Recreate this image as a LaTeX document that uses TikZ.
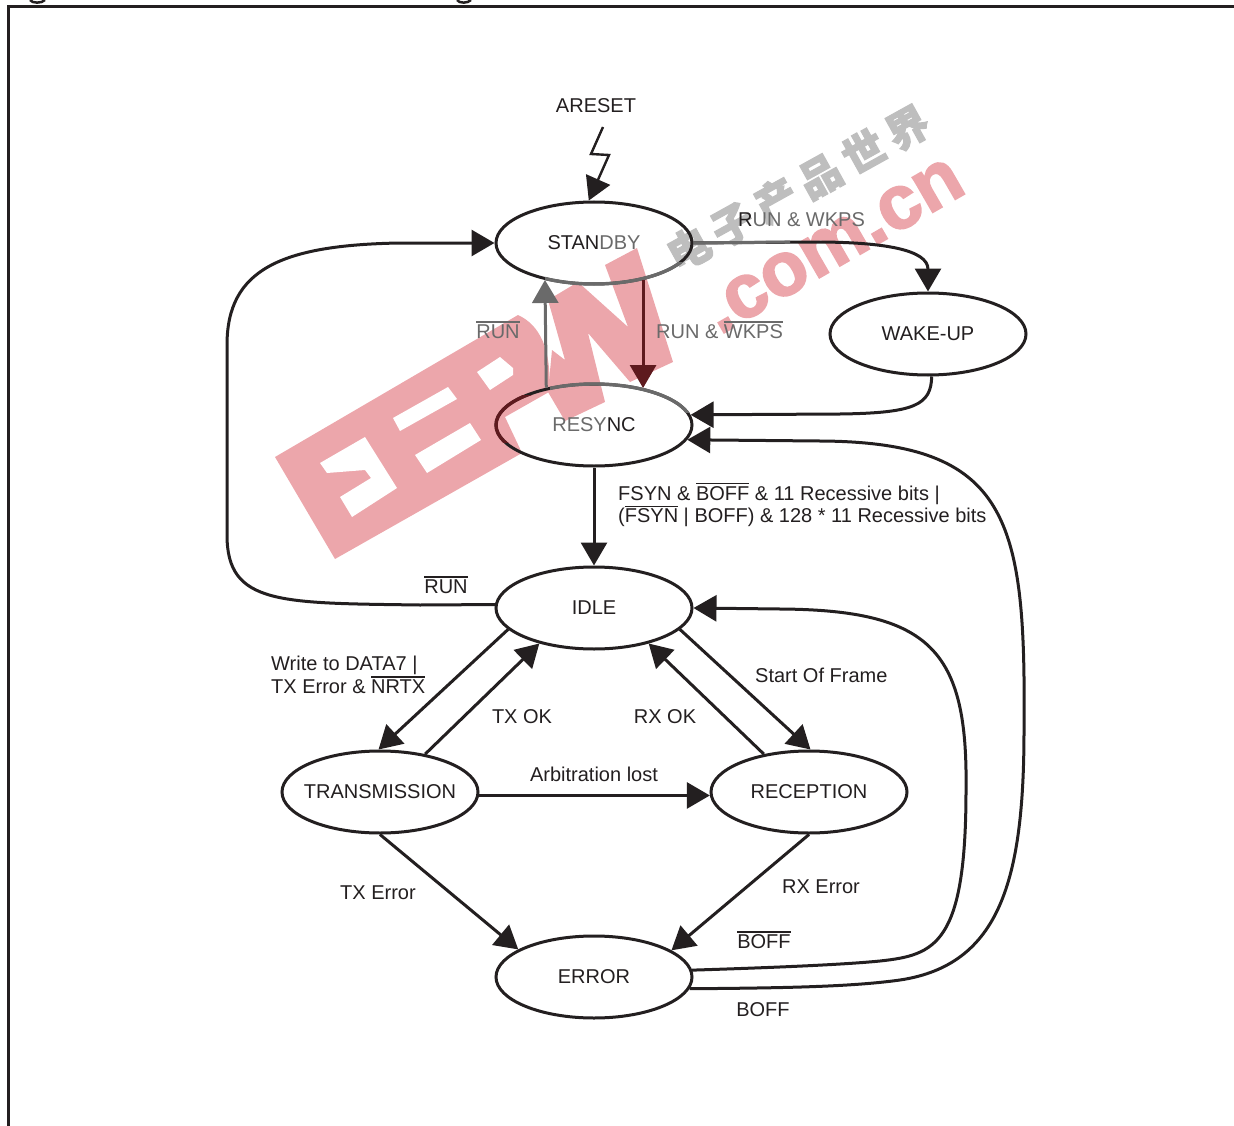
\documentclass[tikz,border=0pt]{standalone}
\usepackage{fontspec}
\setmainfont{Liberation Sans}
\newfontfamily\cjkwm[BoldFeatures={FakeBold=2.5}]{Noto Sans CJK SC}
\newfontface\wmheavy[FakeBold=2.5]{Liberation Sans Bold}
\usetikzlibrary{arrows.meta,shapes.geometric}
\newcommand\myover[1]{\leavevmode\setbox0\hbox{#1}\rlap{\raisebox{15.8pt}{\rule{\wd0}{1.6pt}}}\box0 }
\newcommand\statetext[1]{\makebox[0pt]{\raisebox{-1pt}{#1}}}
\definecolor{wmred}{HTML}{ECA6AB}
\definecolor{wmgray}{HTML}{BEBEBE}
\definecolor{fade}{HTML}{6A6A6A}
\definecolor{inkred}{HTML}{5E1A1E}
\definecolor{ink}{HTML}{231F20}
\tikzset{
  stateell/.style={draw=ink,ellipse,line width=3pt,minimum width=196pt,minimum height=82pt,inner sep=0pt,font=\fontsize{20}{24}\selectfont,text=ink},
  lbl/.style={inner sep=0pt,font=\fontsize{20}{21}\selectfont,text=ink,align=left},
  arr/.style={draw=ink,line width=3pt,-{Triangle[length=23pt,width=26pt]}},
  wmhole/.style={fill=white,draw=none},
}
\begin{document}
\begin{tikzpicture}[x=1pt,y=-1pt]
\useasboundingbox (0,0) rectangle (1234,1126);
% watermark
\fill[wmred] (275,457) -- (518,315) .. controls (540,325) and (552,350) .. (549,392) -- (505,417) -- (522,453) -- (335,559) -- cycle;
\fill[wmred] (548,300) -- (578,282) -- (628,327) -- (605,265) -- (637,248) -- (673,362) -- (630,382) -- (588,333) -- (605,402) -- (565,421) -- (548,392) -- (552,350) -- (565,360) -- cycle;
\fill[wmhole] (477,372) -- (500,357) -- (513,368) -- (513,375) -- (490,390) -- cycle;
\fill[wmhole] (393,418) -- (448,387) -- (457,399) -- (400,431) -- cycle;
\fill[wmhole] (415,455) -- (470,423) -- (481,440) -- (427,473) -- cycle;
\fill[wmhole] (320,463) -- (365,437) -- (397,488) -- (352,517) -- (340,497) -- (371,478) -- (365,470) -- (327,473) -- cycle;
\node[rotate=30,text=wmred,inner sep=0pt,font=\wmheavy\fontsize{76}{80}\selectfont] (wmcom) at (834,246) {.com.cn};
\node[rotate=29,text=wmgray,inner sep=0pt,font=\cjkwm\bfseries\fontsize{42}{44}\selectfont] (wmcjk) at (798,188) {电\hspace{8pt}子\hspace{8pt}产\hspace{8pt}品\hspace{8pt}世\hspace{8pt}界};
% frame
\draw[ink,line width=3pt] (8,1126) -- (8,7) -- (1234,7);
\draw[ink,line width=2.5pt] (30,0) .. controls (32,3.5) and (42,3.5) .. (45,0);
\draw[ink,line width=2.5pt] (457,0) .. controls (459,3.5) and (468,3.5) .. (471,0);
% states
\node[stateell] (standby) at (594,243) {\statetext{STAN\textcolor{fade}{DBY}}};
\node[stateell] (wakeup) at (928,334) {\statetext{WAKE-UP}};
\node[stateell] (resync) at (594,425) {\statetext{\textcolor{fade}{RESY}NC}};
\node[stateell] (idle) at (594,608) {\statetext{IDLE}};
\node[stateell] (trans) at (380,792) {\statetext{TRANSMISSION}};
\node[stateell] (recep) at (809,792) {\statetext{RECEPTION}};
\node[stateell] (error) at (594,977) {\statetext{ERROR}};
% faded parts of ellipses
\begin{scope}
\clip (545,262) rectangle (700,300);
\draw[fade,line width=3.4pt] (standby.center) ellipse [x radius=98,y radius=41];
\end{scope}
\begin{scope}
\clip (550,375) rectangle (700,412);
\draw[fade,line width=3.4pt] (resync.center) ellipse [x radius=98,y radius=41];
\end{scope}
\begin{scope}
\clip (490,395) rectangle (546,442);
\draw[inkred,line width=3.4pt] (resync.center) ellipse [x radius=98,y radius=41];
\end{scope}
% reset
\coordinate (resetstart) at (603,127);
\draw[ink,line width=2.4pt,-{Triangle[length=23pt,width=26pt]}] (resetstart) -- (591,154) -- (609,155) -- (standby.97);
% connectors
\draw[arr] (standby.east) -- (815,242) .. controls (885,242) and (928,250) .. (wakeup.north);
\draw[fade,line width=3pt] (standby.east) -- (790,242);
\draw[arr,draw=fade,fill=fade] (resync.142.5) -- (standby.217.5);
\draw[arr,draw=inkred,fill=inkred] (standby.-37.5) -- (resync.37.5);
\draw[arr] (wakeup.-85) .. controls (931,405) and (915,413) .. (840,414) -- (resync.6.6);
\draw[arr] (idle.178) -- (420,605) .. controls (280,603) and (227,605) .. (227,535) -- (227,345) .. controls (227,270) and (280,245) .. (400,243) -- (standby.west);
\draw[arr] (error.4.8) .. controls (760,968) and (840,965) .. (880,961) .. controls (935,955) and (966,945) .. (966,790) .. controls (968,650) and (930,610) .. (780,609) -- (idle.east);
\draw[arr] (error.-7) .. controls (780,988) and (850,987) .. (900,980) .. controls (1000,965) and (1024,880) .. (1024,730) .. controls (1026,520) and (1010,442) .. (820,441) -- (resync.-9.4);
\draw[arr] (resync.south) -- (idle.north);
\draw[arr] (idle.194) -- (trans.92);
\draw[arr] (trans.40) -- (idle.213);
\draw[arr] (idle.-14) -- (recep.88);
\draw[arr] (recep.140) -- (idle.-33);
\draw[arr] (trans.-2) -- (recep.182);
\draw[arr] (trans.south) -- (error.160.6);
\draw[arr] (recep.south) -- (error.19.4);
% labels
\node[lbl] (lareset) at (596,106) {ARESET};
\node[lbl,anchor=west,text=fade] (lrunwk) at (738,220) {\textcolor{ink}{R}UN \& WKPS};
\node[lbl,text=fade] (lrun1) at (498,330) {\myover{RUN}};
\node[lbl,anchor=west,text=fade] (lrunwk2) at (656,330) {RUN \& \myover{WKPS}};
\node[lbl,anchor=west] (lfsyn) at (618,505) {FSYN \& \myover{BOFF} \& 11 Recessive bits |\\(\myover{FSYN} | BOFF) \& 128 * 11 Recessive bits};
\node[lbl] (lrun2) at (446,585) {\myover{RUN}};
\node[lbl,anchor=west,font=\fontsize{20}{19.5}\selectfont] (lwrite) at (271,675) {Write to DATA7 |\\TX Error \& \myover{NRTX}};
\node[lbl,anchor=west] (lsof) at (755,675) {Start Of Frame};
\node[lbl] (ltxok) at (522,717) {TX OK};
\node[lbl] (lrxok) at (665,717) {RX OK};
\node[lbl] (larb) at (594,774) {Arbitration lost};
\node[lbl] (ltxerr) at (378,893) {TX Error};
\node[lbl] (lrxerr) at (821,887) {RX Error};
\node[lbl] (lboffn) at (764,940) {\myover{BOFF}};
\node[lbl] (lboff) at (763,1010) {BOFF};
\end{tikzpicture}
\end{document}
